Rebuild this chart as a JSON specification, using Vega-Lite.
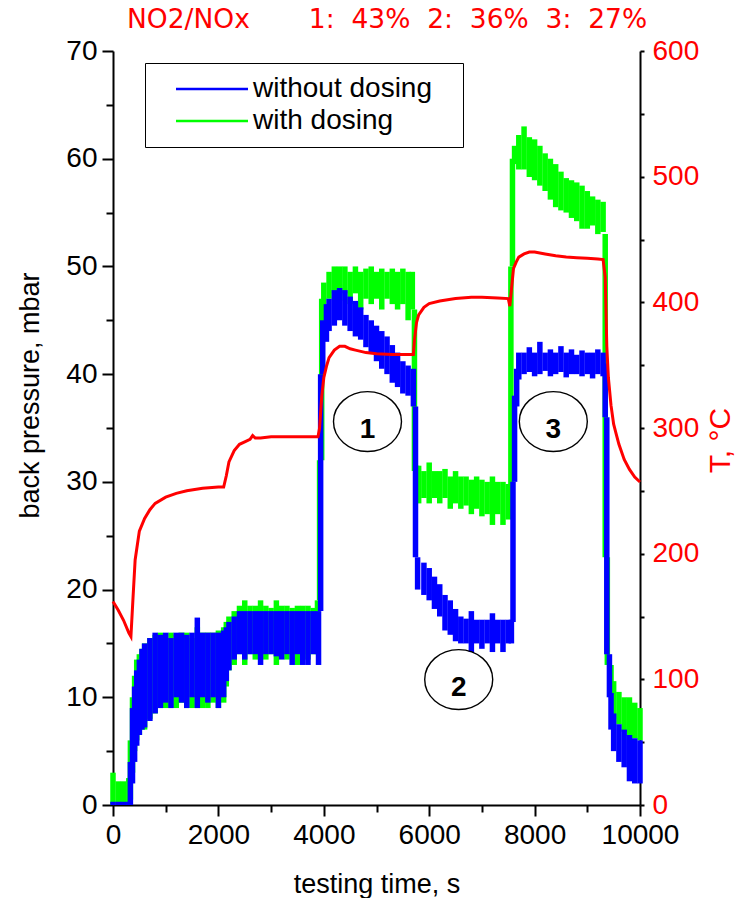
{
  "$schema": "https://vega.github.io/schema/vega-lite/v6.json",
  "width": 527,
  "height": 754,
  "autosize": {"type": "none"},
  "padding": {"left": 113, "top": 51, "right": 95, "bottom": 93},
  "background": "white",
  "config": {
    "view": {"stroke": null},
    "axis": {"grid": false, "domainColor": "black", "tickColor": "black", "domainWidth": 2, "tickWidth": 2, "labelFont": "Liberation Sans", "labelFontSize": 28, "titleFont": "Liberation Sans", "titleFontWeight": "normal", "labelOverlap": false, "labelBound": false}
  },
  "title": {
    "text": "NO2/NOx\u00a0\u00a0\u00a0\u00a0\u00a0\u00a0\u00a01:\u00a0\u00a043%\u00a0\u00a02:\u00a0\u00a036%\u00a0\u00a03:\u00a0\u00a027%",
    "anchor": "start", "frame": "group", "dx": 14, "baseline": "alphabetic", "offset": -17,
    "font": "DejaVu Sans", "fontSize": 26.5, "fontWeight": "normal", "color": "#ff0000"
  },
  "datasets": {
    "bands": [
      {"t":0,"lo":0,"hi":3,"series":"with dosing"},{"t":100,"lo":0,"hi":2.2,"series":"with dosing"},{"t":200,"lo":0,"hi":2.2,"series":"with dosing"},{"t":300,"lo":0,"hi":2.5,"series":"with dosing"},{"t":330,"lo":0.5,"hi":6,"series":"with dosing"},{"t":370,"lo":3,"hi":10,"series":"with dosing"},{"t":410,"lo":5,"hi":12,"series":"with dosing"},{"t":450,"lo":6,"hi":13.5,"series":"with dosing"},{"t":500,"lo":6.5,"hi":14,"series":"with dosing"},{"t":550,"lo":7,"hi":14.5,"series":"with dosing"},{"t":600,"lo":7,"hi":15,"series":"with dosing"},{"t":700,"lo":8,"hi":15.5,"series":"with dosing"},{"t":800,"lo":8.5,"hi":15.8,"series":"with dosing"},{"t":900,"lo":9,"hi":16,"series":"with dosing"},{"t":1000,"lo":9,"hi":15.5,"series":"with dosing"},{"t":1100,"lo":9,"hi":16,"series":"with dosing"},{"t":1200,"lo":9,"hi":15.8,"series":"with dosing"},{"t":1300,"lo":9.5,"hi":16,"series":"with dosing"},{"t":1400,"lo":9,"hi":16,"series":"with dosing"},{"t":1500,"lo":9,"hi":15.5,"series":"with dosing"},{"t":1600,"lo":9,"hi":16.5,"series":"with dosing"},{"t":1700,"lo":9,"hi":16,"series":"with dosing"},{"t":1800,"lo":9,"hi":16,"series":"with dosing"},{"t":1900,"lo":9.5,"hi":16,"series":"with dosing"},{"t":2000,"lo":9,"hi":16.2,"series":"with dosing"},{"t":2100,"lo":9.5,"hi":16.5,"series":"with dosing"},{"t":2150,"lo":11,"hi":17,"series":"with dosing"},{"t":2200,"lo":12.5,"hi":17.5,"series":"with dosing"},{"t":2300,"lo":13,"hi":18,"series":"with dosing"},{"t":2400,"lo":14,"hi":18.5,"series":"with dosing"},{"t":2500,"lo":13,"hi":19,"series":"with dosing"},{"t":2600,"lo":14,"hi":18.5,"series":"with dosing"},{"t":2700,"lo":13.5,"hi":18.5,"series":"with dosing"},{"t":2800,"lo":14,"hi":19,"series":"with dosing"},{"t":2900,"lo":13.5,"hi":18.5,"series":"with dosing"},{"t":3000,"lo":14,"hi":18.3,"series":"with dosing"},{"t":3100,"lo":13,"hi":19,"series":"with dosing"},{"t":3200,"lo":14,"hi":18.5,"series":"with dosing"},{"t":3300,"lo":13.5,"hi":18.5,"series":"with dosing"},{"t":3400,"lo":14,"hi":18.3,"series":"with dosing"},{"t":3500,"lo":13,"hi":18.5,"series":"with dosing"},{"t":3600,"lo":14,"hi":18.5,"series":"with dosing"},{"t":3700,"lo":13.5,"hi":18.5,"series":"with dosing"},{"t":3800,"lo":14,"hi":18.3,"series":"with dosing"},{"t":3880,"lo":14,"hi":19,"series":"with dosing"},{"t":3920,"lo":19,"hi":32,"series":"with dosing"},{"t":3960,"lo":32,"hi":47,"series":"with dosing"},{"t":4000,"lo":45.5,"hi":48.5,"series":"with dosing"},{"t":4100,"lo":47,"hi":49.5,"series":"with dosing"},{"t":4200,"lo":47.5,"hi":50,"series":"with dosing"},{"t":4300,"lo":46.8,"hi":50,"series":"with dosing"},{"t":4400,"lo":47.5,"hi":50,"series":"with dosing"},{"t":4500,"lo":46.5,"hi":49.5,"series":"with dosing"},{"t":4600,"lo":47.5,"hi":50,"series":"with dosing"},{"t":4700,"lo":46,"hi":49.5,"series":"with dosing"},{"t":4800,"lo":47,"hi":49.8,"series":"with dosing"},{"t":4900,"lo":46.5,"hi":50,"series":"with dosing"},{"t":5000,"lo":47,"hi":49.5,"series":"with dosing"},{"t":5100,"lo":46,"hi":49.8,"series":"with dosing"},{"t":5200,"lo":47,"hi":49.5,"series":"with dosing"},{"t":5300,"lo":46.5,"hi":49.8,"series":"with dosing"},{"t":5400,"lo":46,"hi":49.5,"series":"with dosing"},{"t":5500,"lo":46.5,"hi":49.8,"series":"with dosing"},{"t":5600,"lo":45,"hi":49.5,"series":"with dosing"},{"t":5680,"lo":46,"hi":49.5,"series":"with dosing"},{"t":5720,"lo":31,"hi":46,"series":"with dosing"},{"t":5760,"lo":28.5,"hi":31.5,"series":"with dosing"},{"t":5800,"lo":28,"hi":31.5,"series":"with dosing"},{"t":5900,"lo":28.5,"hi":31,"series":"with dosing"},{"t":6000,"lo":28,"hi":31.8,"series":"with dosing"},{"t":6100,"lo":28.5,"hi":31,"series":"with dosing"},{"t":6200,"lo":28,"hi":31,"series":"with dosing"},{"t":6300,"lo":28.5,"hi":31.2,"series":"with dosing"},{"t":6400,"lo":27.5,"hi":30.5,"series":"with dosing"},{"t":6500,"lo":28,"hi":31,"series":"with dosing"},{"t":6600,"lo":27.5,"hi":30.5,"series":"with dosing"},{"t":6700,"lo":27.8,"hi":30.5,"series":"with dosing"},{"t":6800,"lo":27,"hi":30.2,"series":"with dosing"},{"t":6900,"lo":27.5,"hi":30.5,"series":"with dosing"},{"t":7000,"lo":26.8,"hi":30.2,"series":"with dosing"},{"t":7100,"lo":27,"hi":30,"series":"with dosing"},{"t":7200,"lo":26,"hi":30.5,"series":"with dosing"},{"t":7300,"lo":27,"hi":30,"series":"with dosing"},{"t":7400,"lo":26,"hi":30,"series":"with dosing"},{"t":7500,"lo":26.5,"hi":29.8,"series":"with dosing"},{"t":7550,"lo":29.5,"hi":50,"series":"with dosing"},{"t":7580,"lo":50,"hi":60,"series":"with dosing"},{"t":7620,"lo":59.5,"hi":61.2,"series":"with dosing"},{"t":7700,"lo":59,"hi":62.2,"series":"with dosing"},{"t":7800,"lo":59,"hi":63,"series":"with dosing"},{"t":7900,"lo":58.3,"hi":62,"series":"with dosing"},{"t":8000,"lo":58,"hi":61.8,"series":"with dosing"},{"t":8100,"lo":57.5,"hi":61.2,"series":"with dosing"},{"t":8200,"lo":57,"hi":60.5,"series":"with dosing"},{"t":8300,"lo":56.2,"hi":60,"series":"with dosing"},{"t":8400,"lo":55.5,"hi":59.5,"series":"with dosing"},{"t":8500,"lo":55.2,"hi":58.8,"series":"with dosing"},{"t":8600,"lo":55,"hi":58.2,"series":"with dosing"},{"t":8700,"lo":54.5,"hi":58,"series":"with dosing"},{"t":8800,"lo":54.2,"hi":57.8,"series":"with dosing"},{"t":8900,"lo":53.5,"hi":57.5,"series":"with dosing"},{"t":9000,"lo":53.5,"hi":57,"series":"with dosing"},{"t":9100,"lo":53.8,"hi":56.5,"series":"with dosing"},{"t":9200,"lo":53,"hi":56.2,"series":"with dosing"},{"t":9300,"lo":53.2,"hi":56,"series":"with dosing"},{"t":9340,"lo":23,"hi":53,"series":"with dosing"},{"t":9380,"lo":13,"hi":23,"series":"with dosing"},{"t":9450,"lo":10.5,"hi":13,"series":"with dosing"},{"t":9500,"lo":8,"hi":11.5,"series":"with dosing"},{"t":9600,"lo":7.5,"hi":10.5,"series":"with dosing"},{"t":9700,"lo":6.8,"hi":10,"series":"with dosing"},{"t":9800,"lo":6.5,"hi":10,"series":"with dosing"},{"t":9900,"lo":6.2,"hi":9.5,"series":"with dosing"},{"t":10000,"lo":6,"hi":9,"series":"with dosing"},
      {"t":0,"lo":0,"hi":0.3,"series":"without dosing"},{"t":100,"lo":0,"hi":0.3,"series":"without dosing"},{"t":200,"lo":0,"hi":0.3,"series":"without dosing"},{"t":300,"lo":0,"hi":0.3,"series":"without dosing"},{"t":330,"lo":0,"hi":4,"series":"without dosing"},{"t":370,"lo":2,"hi":9,"series":"without dosing"},{"t":410,"lo":4,"hi":11,"series":"without dosing"},{"t":450,"lo":5.5,"hi":12.5,"series":"without dosing"},{"t":500,"lo":6.5,"hi":13.5,"series":"without dosing"},{"t":550,"lo":7,"hi":14.5,"series":"without dosing"},{"t":600,"lo":7.2,"hi":15,"series":"without dosing"},{"t":700,"lo":7.8,"hi":15.5,"series":"without dosing"},{"t":800,"lo":8.5,"hi":16,"series":"without dosing"},{"t":900,"lo":9,"hi":15.8,"series":"without dosing"},{"t":1000,"lo":9.5,"hi":16,"series":"without dosing"},{"t":1100,"lo":9,"hi":15.5,"series":"without dosing"},{"t":1200,"lo":10,"hi":16,"series":"without dosing"},{"t":1300,"lo":9.5,"hi":16,"series":"without dosing"},{"t":1400,"lo":9,"hi":15.8,"series":"without dosing"},{"t":1500,"lo":10,"hi":16,"series":"without dosing"},{"t":1600,"lo":9,"hi":17.4,"series":"without dosing"},{"t":1700,"lo":10,"hi":16,"series":"without dosing"},{"t":1800,"lo":9.5,"hi":16,"series":"without dosing"},{"t":1900,"lo":10,"hi":16,"series":"without dosing"},{"t":2000,"lo":9,"hi":16,"series":"without dosing"},{"t":2100,"lo":10,"hi":16.2,"series":"without dosing"},{"t":2150,"lo":11.5,"hi":16.5,"series":"without dosing"},{"t":2200,"lo":12.5,"hi":17,"series":"without dosing"},{"t":2300,"lo":13.5,"hi":17.5,"series":"without dosing"},{"t":2400,"lo":14,"hi":18,"series":"without dosing"},{"t":2500,"lo":13.5,"hi":18,"series":"without dosing"},{"t":2600,"lo":14,"hi":18,"series":"without dosing"},{"t":2700,"lo":14,"hi":18,"series":"without dosing"},{"t":2800,"lo":13,"hi":18,"series":"without dosing"},{"t":2900,"lo":14,"hi":18,"series":"without dosing"},{"t":3000,"lo":14,"hi":18,"series":"without dosing"},{"t":3100,"lo":13.8,"hi":18,"series":"without dosing"},{"t":3200,"lo":13.5,"hi":18,"series":"without dosing"},{"t":3300,"lo":14,"hi":18,"series":"without dosing"},{"t":3400,"lo":13,"hi":18,"series":"without dosing"},{"t":3500,"lo":14,"hi":18,"series":"without dosing"},{"t":3600,"lo":13,"hi":18,"series":"without dosing"},{"t":3700,"lo":13,"hi":18,"series":"without dosing"},{"t":3800,"lo":14,"hi":18,"series":"without dosing"},{"t":3900,"lo":13,"hi":18,"series":"without dosing"},{"t":3940,"lo":18,"hi":40,"series":"without dosing"},{"t":3980,"lo":40,"hi":45,"series":"without dosing"},{"t":4050,"lo":43,"hi":46.5,"series":"without dosing"},{"t":4100,"lo":44,"hi":47,"series":"without dosing"},{"t":4200,"lo":44.5,"hi":47.8,"series":"without dosing"},{"t":4300,"lo":45,"hi":48,"series":"without dosing"},{"t":4400,"lo":44.5,"hi":47.8,"series":"without dosing"},{"t":4500,"lo":44,"hi":47.2,"series":"without dosing"},{"t":4600,"lo":43.5,"hi":46.8,"series":"without dosing"},{"t":4700,"lo":43.2,"hi":46.2,"series":"without dosing"},{"t":4800,"lo":42.5,"hi":45.5,"series":"without dosing"},{"t":4900,"lo":42,"hi":45,"series":"without dosing"},{"t":5000,"lo":41.2,"hi":44.5,"series":"without dosing"},{"t":5100,"lo":40.5,"hi":44,"series":"without dosing"},{"t":5200,"lo":40,"hi":43.5,"series":"without dosing"},{"t":5300,"lo":39.2,"hi":42.7,"series":"without dosing"},{"t":5400,"lo":38.8,"hi":42,"series":"without dosing"},{"t":5500,"lo":38.2,"hi":41.2,"series":"without dosing"},{"t":5600,"lo":38,"hi":40.8,"series":"without dosing"},{"t":5700,"lo":37,"hi":40.5,"series":"without dosing"},{"t":5740,"lo":23,"hi":37,"series":"without dosing"},{"t":5780,"lo":20,"hi":23,"series":"without dosing"},{"t":5900,"lo":19.5,"hi":22.5,"series":"without dosing"},{"t":6000,"lo":19,"hi":22,"series":"without dosing"},{"t":6100,"lo":18.2,"hi":21.2,"series":"without dosing"},{"t":6200,"lo":17.5,"hi":20.5,"series":"without dosing"},{"t":6300,"lo":16.2,"hi":19.5,"series":"without dosing"},{"t":6400,"lo":15.8,"hi":19,"series":"without dosing"},{"t":6500,"lo":15.2,"hi":18.2,"series":"without dosing"},{"t":6600,"lo":15,"hi":17.5,"series":"without dosing"},{"t":6700,"lo":15,"hi":17.3,"series":"without dosing"},{"t":6800,"lo":14.2,"hi":18,"series":"without dosing"},{"t":6900,"lo":15,"hi":17.2,"series":"without dosing"},{"t":7000,"lo":14.5,"hi":17.2,"series":"without dosing"},{"t":7100,"lo":15,"hi":17.2,"series":"without dosing"},{"t":7200,"lo":14.2,"hi":17.8,"series":"without dosing"},{"t":7300,"lo":15,"hi":17.2,"series":"without dosing"},{"t":7400,"lo":14.2,"hi":17.2,"series":"without dosing"},{"t":7500,"lo":15,"hi":17.2,"series":"without dosing"},{"t":7560,"lo":15,"hi":17.2,"series":"without dosing"},{"t":7590,"lo":17,"hi":30,"series":"without dosing"},{"t":7620,"lo":30,"hi":38,"series":"without dosing"},{"t":7660,"lo":37,"hi":40.5,"series":"without dosing"},{"t":7700,"lo":39.5,"hi":42,"series":"without dosing"},{"t":7800,"lo":40,"hi":42,"series":"without dosing"},{"t":7900,"lo":40.2,"hi":42.5,"series":"without dosing"},{"t":8000,"lo":39.8,"hi":42,"series":"without dosing"},{"t":8100,"lo":40,"hi":43,"series":"without dosing"},{"t":8200,"lo":40.3,"hi":42,"series":"without dosing"},{"t":8300,"lo":39.8,"hi":42.3,"series":"without dosing"},{"t":8400,"lo":40,"hi":42,"series":"without dosing"},{"t":8500,"lo":40.2,"hi":42.6,"series":"without dosing"},{"t":8600,"lo":39.7,"hi":42,"series":"without dosing"},{"t":8700,"lo":40,"hi":42.3,"series":"without dosing"},{"t":8800,"lo":40,"hi":41.8,"series":"without dosing"},{"t":8900,"lo":39.8,"hi":42.2,"series":"without dosing"},{"t":9000,"lo":40,"hi":42,"series":"without dosing"},{"t":9100,"lo":39.6,"hi":42,"series":"without dosing"},{"t":9200,"lo":40,"hi":42.3,"series":"without dosing"},{"t":9300,"lo":39.8,"hi":42,"series":"without dosing"},{"t":9340,"lo":36,"hi":41,"series":"without dosing"},{"t":9370,"lo":14,"hi":36,"series":"without dosing"},{"t":9420,"lo":10,"hi":14,"series":"without dosing"},{"t":9450,"lo":7,"hi":10.4,"series":"without dosing"},{"t":9500,"lo":5,"hi":8.5,"series":"without dosing"},{"t":9600,"lo":4,"hi":7.5,"series":"without dosing"},{"t":9700,"lo":3.5,"hi":7,"series":"without dosing"},{"t":9800,"lo":2.2,"hi":6.5,"series":"without dosing"},{"t":9900,"lo":2,"hi":6.2,"series":"without dosing"},{"t":10000,"lo":2,"hi":6,"series":"without dosing"}
    ],
    "temp": [
      {"t":0,"T":162},{"t":100,"T":155},{"t":200,"T":147},{"t":300,"T":137},{"t":340,"T":134},{"t":380,"T":165},{"t":420,"T":195},{"t":500,"T":218},{"t":600,"T":228},{"t":700,"T":235},{"t":800,"T":240},{"t":1000,"T":245},{"t":1200,"T":248},{"t":1400,"T":250},{"t":1700,"T":252},{"t":2000,"T":253},{"t":2100,"T":253},{"t":2150,"T":262},{"t":2200,"T":273},{"t":2300,"T":282},{"t":2400,"T":287},{"t":2500,"T":289},{"t":2600,"T":291},{"t":2650,"T":294},{"t":2700,"T":292},{"t":2800,"T":292},{"t":3000,"T":293},{"t":3500,"T":293},{"t":3890,"T":293},{"t":3920,"T":300},{"t":3960,"T":325},{"t":4000,"T":340},{"t":4050,"T":349},{"t":4100,"T":356},{"t":4200,"T":362},{"t":4300,"T":365},{"t":4400,"T":365},{"t":4500,"T":363},{"t":4600,"T":362},{"t":4800,"T":360},{"t":5000,"T":359},{"t":5300,"T":358.5},{"t":5600,"T":358.5},{"t":5700,"T":358.5},{"t":5720,"T":370},{"t":5760,"T":384},{"t":5800,"T":390},{"t":5900,"T":396},{"t":6000,"T":399},{"t":6200,"T":401},{"t":6500,"T":403},{"t":6800,"T":404},{"t":7000,"T":404},{"t":7300,"T":403.5},{"t":7500,"T":403},{"t":7530,"T":397},{"t":7560,"T":410},{"t":7600,"T":427},{"t":7650,"T":432},{"t":7700,"T":436},{"t":7800,"T":438.5},{"t":7900,"T":440},{"t":8000,"T":440},{"t":8200,"T":438.5},{"t":8400,"T":437},{"t":8600,"T":436},{"t":8800,"T":435.5},{"t":9000,"T":435},{"t":9200,"T":434.5},{"t":9300,"T":434},{"t":9340,"T":420},{"t":9370,"T":365},{"t":9400,"T":340},{"t":9450,"T":318},{"t":9500,"T":303},{"t":9550,"T":295},{"t":9600,"T":287},{"t":9700,"T":275},{"t":9800,"T":267},{"t":9900,"T":261},{"t":10000,"T":257}
    ],
    "marks": [
      {"t":4829,"y":35.6,"label":"1"},{"t":6560,"y":11.65,"label":"2"},{"t":8355,"y":35.6,"label":"3"}
    ]
  },
  "resolve": {"scale": {"y": "independent"}, "axis": {"y": "independent"}},
  "layer": [
    {
      "layer": [
        {
          "data": {"name": "bands"},
          "mark": {"type": "rule", "strokeWidth": 5.5},
          "encoding": {
            "x": {"field": "t", "type": "quantitative", "scale": {"domain": [0, 10000], "nice": false},
              "axis": {"title": "testing time, s", "values": [0,1000,2000,3000,4000,5000,6000,7000,8000,9000,10000], "format": "d",
                "labelExpr": "datum.value % 2000 === 0 ? datum.label : ''",
                "tickSize": {"condition": {"test": "datum.value % 2000 === 0", "value": 11}, "value": 7},
                "labelPadding": 5, "labelFlush": false, "labelColor": "black",
                "titleFontSize": 27, "titleColor": "black", "titleBaseline": "alphabetic", "titleY": 87}},
            "y": {"field": "lo", "type": "quantitative", "scale": {"domain": [0, 70], "nice": false},
              "axis": {"title": "back pressure, mbar", "values": [0,5,10,15,20,25,30,35,40,45,50,55,60,65,70],
                "labelExpr": "datum.value % 10 === 0 ? datum.label : ''",
                "tickSize": {"condition": {"test": "datum.value % 10 === 0", "value": 11}, "value": 7},
                "labelPadding": 5, "labelColor": "black",
                "titleFontSize": 27, "titleColor": "black", "titleAngle": 270, "titleBaseline": "middle", "titleAlign": "center", "titleX": -83, "titleY": 344}},
            "y2": {"field": "hi"},
            "color": {"field": "series", "type": "nominal",
              "scale": {"domain": ["without dosing", "with dosing"], "range": ["#0000ff", "#00ff00"]},
              "legend": {"title": null, "orient": "none", "legendX": 32, "legendY": 12, "direction": "vertical",
                "strokeColor": "black", "fillColor": "white", "padding": 12,
                "symbolType": "M-7.2,0H7.2M46.8,0", "symbolSize": 100, "symbolStrokeWidth": 2.5, "symbolOffset": 41,
                "labelOffset": 27, "labelFont": "Liberation Sans", "labelFontSize": 28, "labelColor": "black", "labelLimit": 400,
                "rowPadding": 4}}
          }
        },
        {
          "data": {"name": "marks"},
          "mark": {"type": "point", "shape": "M-1,0A1,0.88,0,1,1,1,0A1,0.88,0,1,1,-1,0Z", "size": 4624, "filled": false, "stroke": "black", "strokeWidth": 1.4, "opacity": 1},
          "encoding": {
            "x": {"field": "t", "type": "quantitative"},
            "y": {"field": "y", "type": "quantitative"}
          }
        },
        {
          "data": {"name": "marks"},
          "mark": {"type": "text", "font": "Liberation Sans", "fontWeight": "bold", "fontSize": 28, "baseline": "alphabetic", "align": "center", "dy": 16, "color": "black"},
          "encoding": {
            "x": {"field": "t", "type": "quantitative"},
            "y": {"field": "y", "type": "quantitative"},
            "text": {"field": "label"}
          }
        }
      ]
    },
    {
      "data": {"name": "temp"},
      "mark": {"type": "line", "color": "#ff0000", "strokeWidth": 3},
      "encoding": {
        "x": {"field": "t", "type": "quantitative"},
        "y": {"field": "T", "type": "quantitative", "scale": {"domain": [0, 600], "nice": false},
          "axis": {"orient": "right", "title": "T, °C", "values": [0,50,100,150,200,250,300,350,400,450,500,550,600],
            "labelExpr": "datum.value % 100 === 0 ? datum.label : ''",
            "tickSize": 4, "labelPadding": 8, "labelColor": "#ff0000",
            "titleFontSize": 30, "titleColor": "#ff0000", "titleAngle": 270, "titleBaseline": "middle", "titleAlign": "center", "titleX": 80, "titleY": 389}}
      }
    }
  ]
}
